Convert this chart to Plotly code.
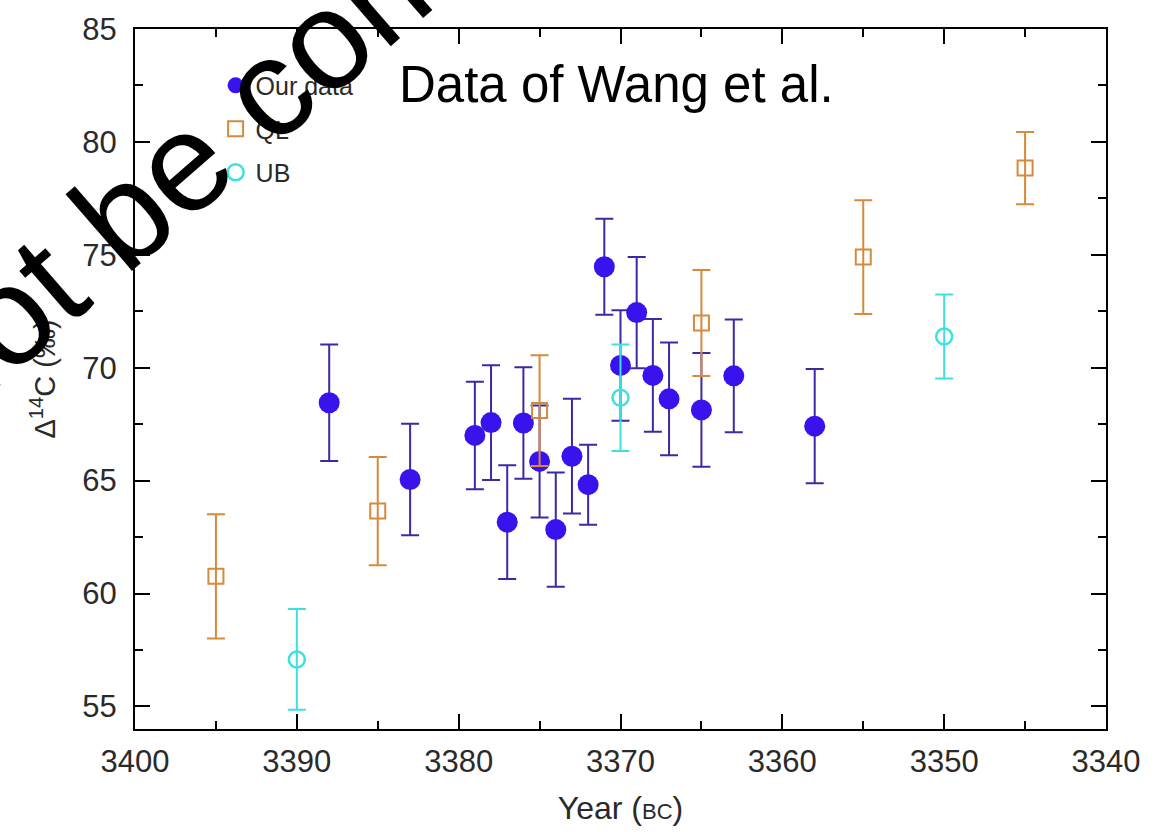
import plotly.graph_objects as go

# ---- data ----
our_year = [3388, 3383, 3379, 3378, 3377, 3376, 3375, 3374, 3373, 3372, 3371, 3370, 3369, 3368, 3367, 3365, 3363, 3358]
our_val = [68.45, 65.05, 67.0, 67.57, 63.16, 67.55, 65.85, 62.83, 66.08, 64.82, 74.47, 70.1, 72.44, 69.66, 68.62, 68.13, 69.64, 67.41]
our_err = [2.58, 2.47, 2.38, 2.54, 2.52, 2.47, 2.48, 2.53, 2.54, 1.77, 2.13, 2.45, 2.46, 2.5, 2.5, 2.52, 2.5, 2.53]

ql_year = [3395, 3385, 3375, 3365, 3355, 3345]
ql_val = [60.76, 63.65, 68.1, 71.98, 74.9, 78.84]
ql_err = [2.75, 2.4, 2.45, 2.35, 2.52, 1.6]

ub_year = [3390, 3370, 3350]
ub_val = [57.08, 68.67, 71.38]
ub_err = [2.23, 2.36, 1.86]

x_ticks = [3400, 3390, 3380, 3370, 3360, 3350, 3340]
y_ticks = [55, 60, 65, 70, 75, 80, 85]

FONT = "Liberation Sans, Arial, Helvetica, sans-serif"
BLUE = "#3a12ee"
BLUE_ERR = "#3b2aa6"
ORANGE = "#d68a3c"
CYAN = "#3fe0e0"

fig = go.Figure()
fig.add_trace(go.Scatter(
    x=our_year, y=our_val, mode="markers", name="Our data", legendgroup="a",
    marker=dict(symbol="circle", size=21, color=BLUE),
    error_y=dict(type="data", array=our_err, visible=True, color=BLUE_ERR, thickness=2, width=9),
))
fig.add_trace(go.Scatter(
    x=ql_year, y=ql_val, mode="markers", name="QL", legendgroup="b",
    marker=dict(symbol="square-open", size=15, color=ORANGE, line=dict(width=2, color=ORANGE)),
    error_y=dict(type="data", array=ql_err, visible=True, color=ORANGE, thickness=2, width=9),
))
fig.add_trace(go.Scatter(
    x=ub_year, y=ub_val, mode="markers", name="UB", legendgroup="c",
    marker=dict(symbol="circle-open", size=16, color=CYAN, line=dict(width=2.5, color=CYAN)),
    error_y=dict(type="data", array=ub_err, visible=True, color=CYAN, thickness=2, width=9),
))

axis_common = dict(
    showline=True, linecolor="black", linewidth=2, mirror="allticks",
    ticks="inside", ticklen=15, tickwidth=2, tickcolor="black",
    showgrid=False, zeroline=False,
    tickfont=dict(family=FONT, size=31, color="#2a2a2a"),
)

fig.update_xaxes(
    range=[3400, 3340], tickmode="array", tickvals=x_ticks,
    minor=dict(dtick=5, tick0=3340, ticks="inside", ticklen=8, tickwidth=2, tickcolor="black", showgrid=False),
    title=dict(text="Year (<span style='font-size:22px'>BC</span>)", font=dict(family=FONT, size=32, color="#2a2a2a"), standoff=18),
    ticklabelstandoff=4,
    **axis_common,
)
fig.update_yaxes(
    range=[54, 85], tickmode="array", tickvals=y_ticks,
    minor=dict(dtick=2.5, tick0=55, ticks="inside", ticklen=8, tickwidth=2, tickcolor="black", showgrid=False),
    title=dict(text="Δ<sup>14</sup>C (‰)", font=dict(family=FONT, size=29, color="#2a2a2a"), standoff=18),
    ticklabelstandoff=10,
    **axis_common,
)

fig.add_annotation(
    text="Data of Wang et al.", xref="paper", yref="paper", x=0.270, y=0.921,
    xanchor="left", yanchor="middle", showarrow=False,
    font=dict(family=FONT, size=51, color="black"),
)
fig.add_annotation(
    text="cannot be combined", xref="paper", yref="paper", x=0.0896, y=0.858,
    xanchor="center", yanchor="middle", showarrow=False, textangle=-41,
    font=dict(family=FONT, size=140, color="black"),
)

fig.update_layout(
    width=1157, height=832,
    margin=dict(l=135, r=51, t=22, b=94),
    paper_bgcolor="white", plot_bgcolor="white",
    showlegend=True,
    legend=dict(
        x=0.083, y=0.952, xanchor="left", yanchor="top",
        bgcolor="rgba(0,0,0,0)", traceorder="grouped", tracegroupgap=8,
        font=dict(family=FONT, size=25, color="#2a2a2a"),
        itemwidth=30,
    ),
)

fig.write_html("out.html")
